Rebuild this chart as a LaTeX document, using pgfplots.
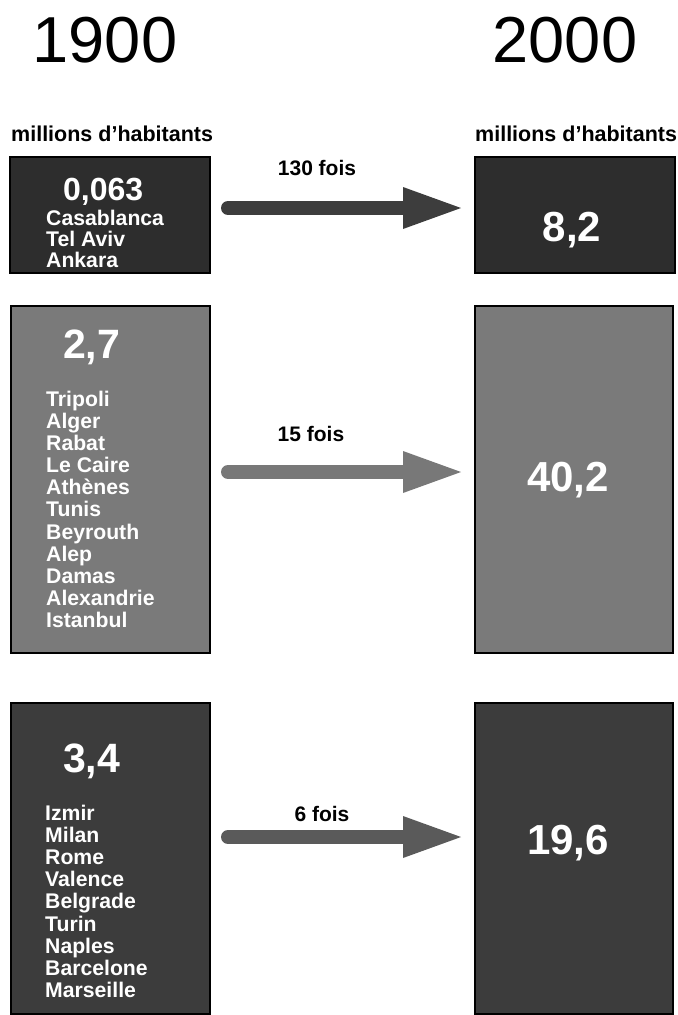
\documentclass[border=0pt]{standalone}
\usepackage{pgfplots}
\pgfplotsset{compat=1.18}
\usepackage{fontspec}
\setmainfont{Liberation Sans}

\definecolor{boxA}{RGB}{45,45,45}
\definecolor{arrA}{RGB}{61,61,61}
\definecolor{boxB}{RGB}{122,122,122}
\definecolor{arrB}{RGB}{120,120,120}
\definecolor{boxC}{RGB}{60,60,60}
\definecolor{arrC}{RGB}{90,90,90}

\newcommand{\city}[3]{\node[anchor=base west, inner sep=0pt, text=white,
  font=\fontsize{21.2}{21.2}\selectfont\bfseries] at (axis cs:#1,#2) {#3};}

\begin{document}
\begin{tikzpicture}
\begin{axis}[
    width=677pt, height=1015pt,
    scale only axis,
    xmin=0, xmax=677,
    ymin=0, ymax=1015,
    y dir=reverse,
    hide axis,
    clip=false,
]
% page frame
\addplot[draw=none] coordinates {(0,0)(677,1015)};

% boxes 1900
\addplot[fill=boxA, draw=black, line width=1.2pt] coordinates {(10,157)(210,157)(210,273)(10,273)} -- cycle;
\addplot[fill=boxB, draw=black, line width=1.2pt] coordinates {(11,306)(210,306)(210,653)(11,653)} -- cycle;
\addplot[fill=boxC, draw=black, line width=1.2pt] coordinates {(11,703)(210,703)(210,1014)(11,1014)} -- cycle;
% boxes 2000
\addplot[fill=boxA, draw=black, line width=1.2pt] coordinates {(475,157)(675,157)(675,273)(475,273)} -- cycle;
\addplot[fill=boxB, draw=black, line width=1.2pt] coordinates {(475,306)(673,306)(673,653)(475,653)} -- cycle;
\addplot[fill=boxC, draw=black, line width=1.2pt] coordinates {(475,703)(673,703)(673,1014)(475,1014)} -- cycle;

% arrows
\addplot[arrA, line width=14pt, line cap=round] coordinates {(228,208)(406,208)};
\addplot[fill=arrA, draw=none] coordinates {(403,187)(461,208)(403,229)} -- cycle;
\addplot[arrB, line width=14pt, line cap=round] coordinates {(228,472)(406,472)};
\addplot[fill=arrB, draw=none] coordinates {(403,451)(461,472)(403,493)} -- cycle;
\addplot[arrC, line width=14pt, line cap=round] coordinates {(228,837)(406,837)};
\addplot[fill=arrC, draw=none] coordinates {(403,816)(461,837)(403,858)} -- cycle;

% titles
\node[anchor=base, inner sep=0pt, font=\fontsize{65}{65}\selectfont] at (axis cs:105,62) {1900};
\node[anchor=base, inner sep=0pt, font=\fontsize{65}{65}\selectfont] at (axis cs:565,62) {2000};
\node[anchor=base west, inner sep=0pt, font=\fontsize{21.5}{21.5}\selectfont\bfseries] at (axis cs:11,141) {millions d’habitants};
\node[anchor=base west, inner sep=0pt, font=\fontsize{21.5}{21.5}\selectfont\bfseries] at (axis cs:475,141) {millions d’habitants};

% factors
\node[anchor=base, inner sep=0pt, font=\fontsize{21}{21}\selectfont\bfseries] at (axis cs:317,175) {130 fois};
\node[anchor=base, inner sep=0pt, font=\fontsize{21}{21}\selectfont\bfseries] at (axis cs:311,441) {15 fois};
\node[anchor=base, inner sep=0pt, font=\fontsize{21}{21}\selectfont\bfseries] at (axis cs:322,821) {6 fois};

% values
\node[anchor=base west, inner sep=0pt, text=white, font=\fontsize{32}{32}\selectfont\bfseries] at (axis cs:63,200) {0,063};
\node[anchor=base west, inner sep=0pt, text=white, font=\fontsize{41}{41}\selectfont\bfseries] at (axis cs:63,358) {2,7};
\node[anchor=base west, inner sep=0pt, text=white, font=\fontsize{41}{41}\selectfont\bfseries] at (axis cs:63,772) {3,4};
\node[anchor=base, inner sep=0pt, text=white, font=\fontsize{42}{42}\selectfont\bfseries] at (axis cs:572,241) {8,2};
\node[anchor=base, inner sep=0pt, text=white, font=\fontsize{42}{42}\selectfont\bfseries] at (axis cs:568,491) {40,2};
\node[anchor=base, inner sep=0pt, text=white, font=\fontsize{42}{42}\selectfont\bfseries] at (axis cs:568,854) {19,6};

% cities group 1
\city{46}{225}{Casablanca}
\city{46}{246}{Tel Aviv}
\city{46}{267}{Ankara}
% cities group 2
\city{46}{406}{Tripoli}
\city{46}{428}{Alger}
\city{46}{450}{Rabat}
\city{46}{472}{Le Caire}
\city{46}{494}{Athènes}
\city{46}{516}{Tunis}
\city{46}{539}{Beyrouth}
\city{46}{561}{Alep}
\city{46}{583}{Damas}
\city{46}{605}{Alexandrie}
\city{46}{627}{Istanbul}
% cities group 3
\city{45}{820}{Izmir}
\city{45}{842}{Milan}
\city{45}{864}{Rome}
\city{45}{886}{Valence}
\city{45}{908}{Belgrade}
\city{45}{931}{Turin}
\city{45}{953}{Naples}
\city{45}{975}{Barcelone}
\city{45}{997}{Marseille}
\end{axis}
\end{tikzpicture}
\end{document}
